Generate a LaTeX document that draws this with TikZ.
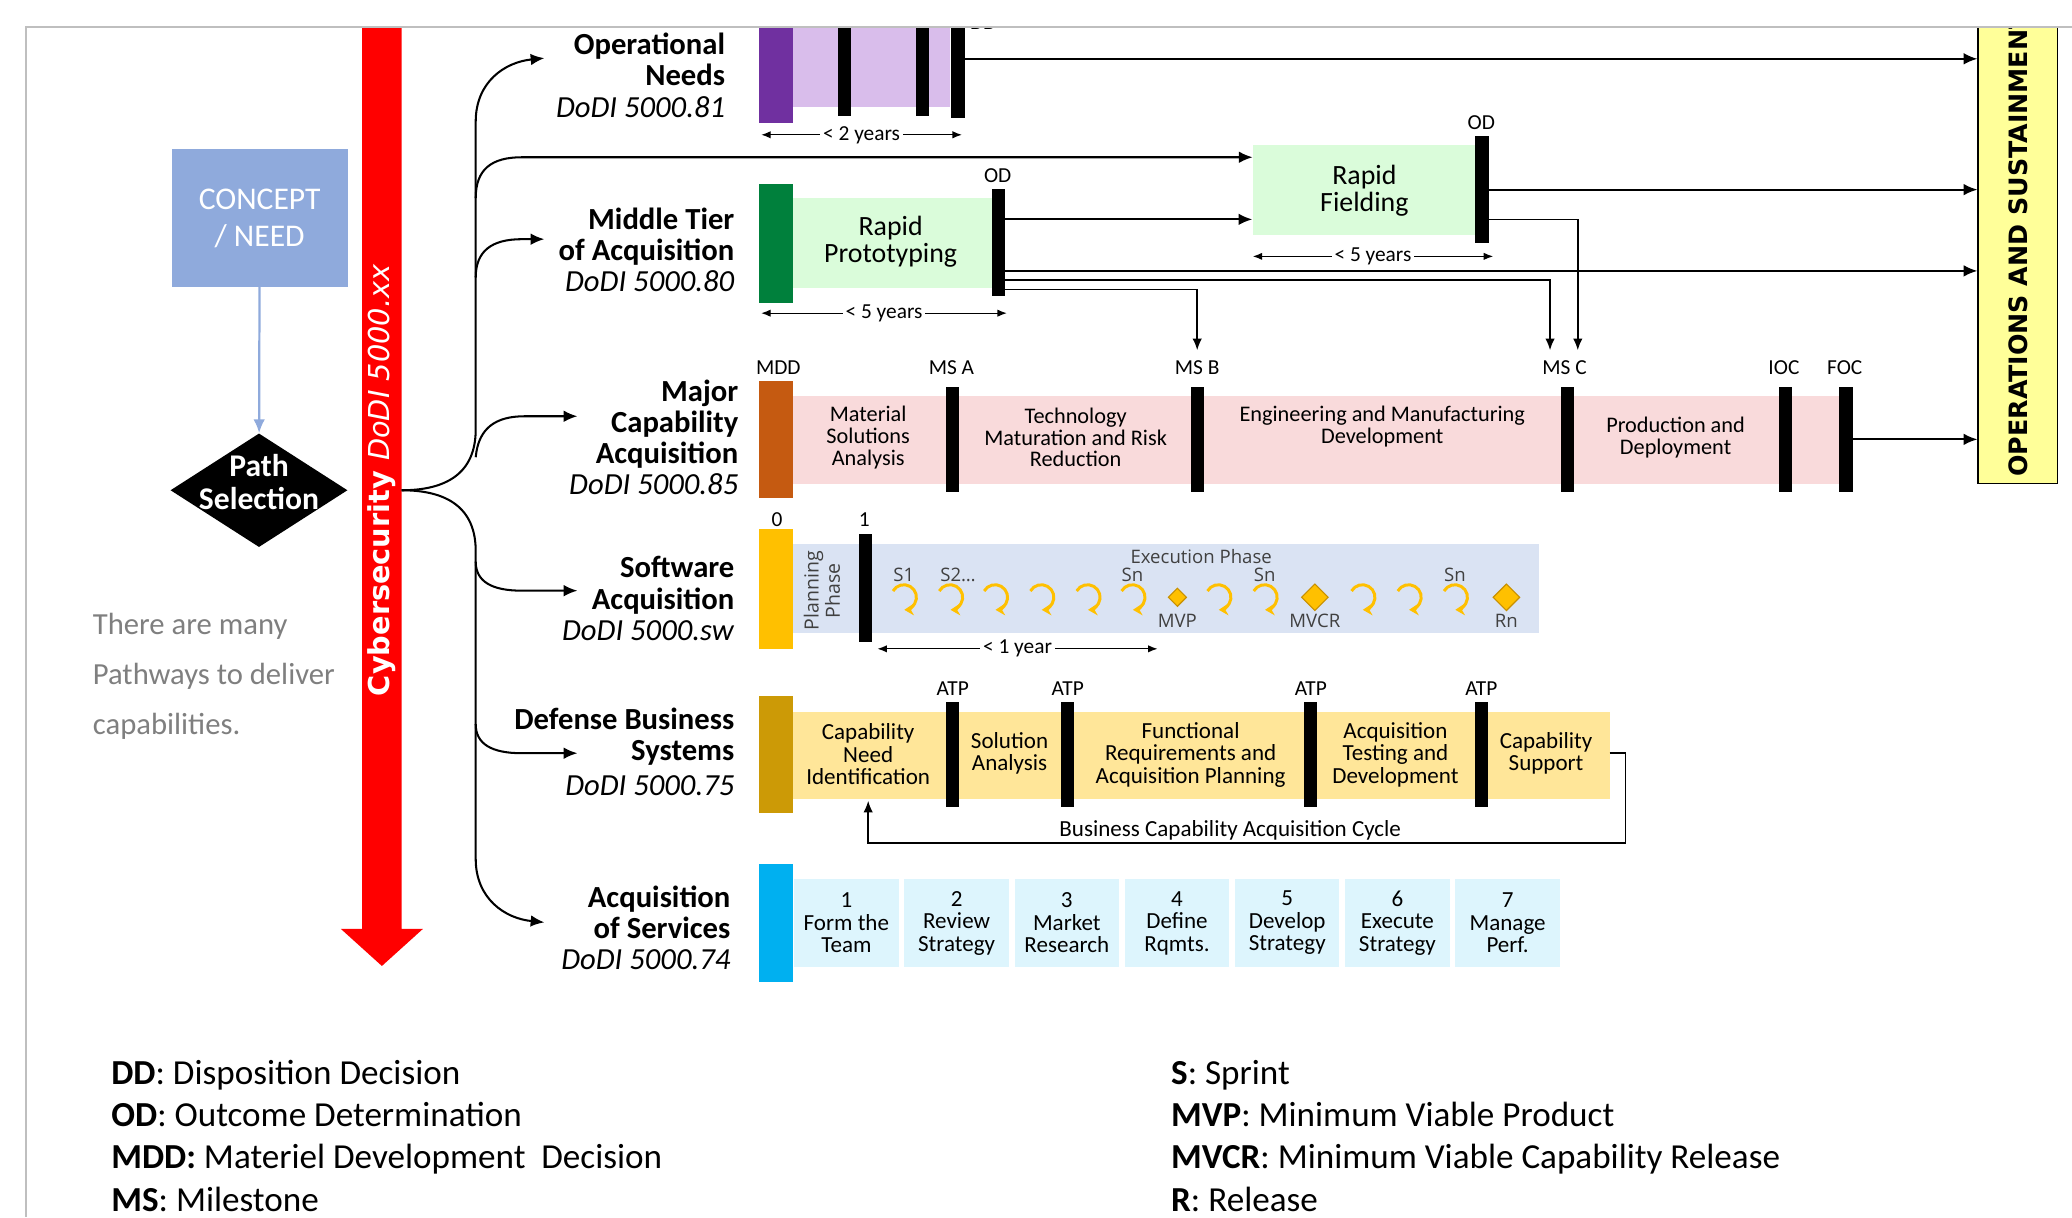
\documentclass[tikz,border=0pt]{standalone}
\usepackage{fontspec}
\setmainfont{Carlito}
\newfontfamily\dejavu{DejaVu Sans}
\newfontfamily\opensans{Open Sans}
\usetikzlibrary{arrows.meta,shapes.geometric,positioning}

\definecolor{conceptblue}{HTML}{8FAADC}
\definecolor{cyberred}{HTML}{FF0000}
\definecolor{urgdark}{HTML}{7030A0}
\definecolor{urglight}{HTML}{D9BDEB}
\definecolor{mtadark}{HTML}{00803C}
\definecolor{mtalight}{HTML}{DAFCDA}
\definecolor{mcadark}{HTML}{C55A11}
\definecolor{mcalight}{HTML}{F9DADB}
\definecolor{swdark}{HTML}{FFC000}
\definecolor{swedge}{HTML}{C89000}
\definecolor{swlight}{HTML}{DAE3F3}
\definecolor{dbsdark}{HTML}{CC9A06}
\definecolor{dbslight}{HTML}{FFE699}
\definecolor{svcdark}{HTML}{00B0F0}
\definecolor{svclight}{HTML}{DDF5FD}
\definecolor{opsyellow}{HTML}{FFFF99}
\definecolor{framegray}{HTML}{BFBFBF}
\definecolor{notegray}{HTML}{7F7F7F}
\definecolor{swtext}{HTML}{404040}

\newcommand{\setfs}[2]{\fontsize{#1}{#2}\selectfont}

\begin{document}
\begin{tikzpicture}[x=0.025cm,y=-0.025cm,
    arr/.style={line width=1.1pt,-{Latex[length=2.6mm,width=2.2mm]}},
    thinarr/.style={line width=0.8pt,-{Latex[length=2.2mm,width=1.8mm]}},
    dimarr/.style={line width=0.7pt,{Latex[length=1.8mm,width=1.4mm]}-{Latex[length=1.8mm,width=1.4mm]}},
    dimlbl/.style={fill=white,inner sep=1.5pt,font=\setfs{11.5}{12}},
    rowlbl/.style={anchor=east,align=right,inner sep=0pt,font=\setfs{16.5}{16.8}},
    phase/.style={align=center,inner sep=0pt,font=\setfs{12}{11.8}},
    mslbl/.style={inner sep=0pt,font=\setfs{11.5}{12}},
    msbar/.style={fill=black,inner sep=0pt,minimum width=0.25cm},
    sprint/.style={draw=swdark,line width=1.6pt,-{Stealth[length=1.8mm,width=2.2mm]}},
    swlbl/.style={inner sep=0pt,text=swtext,font=\opensans\setfs{10}{10}},
    swdiam/.style={diamond,draw=swedge,fill=swdark,inner sep=0pt,line width=0.6pt},
    svcbox/.style={fill=svclight,minimum width=1.975cm,minimum height=1.675cm,inner sep=0pt,align=center,font=\setfs{12.4}{12.1}},
    legend/.style={anchor=west,align=left,inner sep=0pt,font=\setfs{18.9}{22.8}}
  ]
\useasboundingbox (0,0) rectangle (1568,921);
\begin{scope}
\clip (20,20.5) rectangle (1568,921);

% concept and path selection
\node[fill=conceptblue,text=white,minimum width=3.325cm,minimum height=2.6cm,align=center,
  font=\setfs{17}{20}] (concept) at (196.5,165) {CONCEPT\\/ NEED};
\node[diamond,fill=black,minimum width=3.35cm,minimum height=2.15cm,inner sep=0pt] (pathsel) at (196,371) {};
\node[text=white,align=center,inner sep=0pt,font=\bfseries\setfs{17}{17.8}] (pathtxt) at (196,365) {Path\\Selection};
\draw[conceptblue,line width=1.2pt,-{Latex[length=2.6mm,width=2.2mm]}] (concept) -- (pathsel);
\node[anchor=west,align=left,text=notegray,inner sep=0pt,font=\setfs{16.5}{27}] (note) at (70,512)
  {There are many\\Pathways to deliver\\capabilities.};

% cybersecurity arrow
\fill[cyberred] (274,0) -- (274,703) -- (258,703) -- (289,731) -- (320,703) -- (304,703) -- (304,0) -- cycle;
\node[rotate=90,anchor=west,inner sep=0pt,text=white,font=\dejavu\setfs{15.5}{16}] (cyber) at (289,527)
  {\bfseries Cybersecurity \mdseries\itshape DoDI 5000.xx};

% trunk and branches
\coordinate (junc) at (304,371);
\coordinate (urgarr) at (412,44);
\coordinate (mtaarr) at (412,181);
\coordinate (mcaarr) at (437,315);
\coordinate (swarr) at (437,447);
\coordinate (dbsarr) at (437,570);
\coordinate (svcarr) at (412,698);
\draw[arr] (junc) .. controls (338,371) and (360,358) .. (360,325) -- (360,92)
  .. controls (360,62) and (382,47) .. (urgarr);
\draw[arr] (junc) .. controls (338,371) and (360,384) .. (360,417) -- (360,650)
  .. controls (360,680) and (382,695) .. (svcarr);
\draw[arr] (360,150) .. controls (360,128) and (372,119) .. (395,119) -- (948,119);
\draw[arr] (360,210) .. controls (360,190) and (372,181) .. (395,181) -- (mtaarr);
\draw[arr] (360,346) .. controls (362,324) and (375,315) .. (397,315) -- (mcaarr);
\draw[arr] (360,425) .. controls (360,440) and (372,447) .. (395,447) -- (swarr);
\draw[arr] (360,548) .. controls (360,563) and (372,570) .. (395,570) -- (dbsarr);

% operations and sustainment
\node[draw=black,fill=opsyellow,line width=0.8pt,minimum width=1.5cm,minimum height=9.6cm,inner sep=0pt]
  (ops) at (1527,174) {};
\node[rotate=90,anchor=west,inner sep=0pt,font=\dejavu\bfseries\setfs{13.6}{14}] (opstxt) at (1527,361)
  {OPERATIONS AND SUSTAINMENT};

% operational needs
\node[rowlbl] (urglbl) at (549,57) {\textbf{Operational}\\\textbf{Needs}\\\textit{DoDI 5000.81}};
\fill[urglight] (600,0) rectangle (719,81);
\fill[urgdark] (574,0) rectangle (600,93);
\node[msbar,minimum height=2.2cm] (urgA) at (639,44) {};
\node[msbar,minimum height=2.2cm] (urgB) at (698,44) {};
\node[msbar,minimum height=2.225cm] (ddbar) at (725,44.5) {};
\node[mslbl] (ddlbl) at (744,17) {DD};
\draw[dimarr] (576,102) -- node[dimlbl] (urgdim) {< 2 years} (728,102);
\draw[arr] (ddbar.east) -- (ddbar.east -| ops.west);

% middle tier
\node[rowlbl] (mtalbl) at (556,189) {\textbf{Middle Tier}\\\textbf{of Acquisition}\\\textit{DoDI 5000.80}};
\fill[mtalight] (600,150) rectangle (751,218);
\fill[mtadark] (574,139) rectangle (600,229);
\node[align=center,inner sep=0pt,font=\setfs{15}{14.5}] (rptxt) at (674,183) {Rapid\\Prototyping};
\node[msbar,minimum height=2.025cm] (rpOD) at (755.5,183.5) {};
\node[mslbl] (rpODlbl) at (755,133) {OD};
\draw[dimarr] (576,237) -- node[dimlbl] (mtadim) {< 5 years} (762,237);

\node[fill=mtalight,minimum width=4.225cm,minimum height=1.7cm,inner sep=0pt,align=center,
  font=\setfs{15}{14.5}] (rfbox) at (1032.5,144) {Rapid\\Fielding};
\node[msbar,minimum height=2.025cm] (rfOD) at (1121.5,143.5) {};
\node[mslbl] (rfODlbl) at (1121,93) {OD};
\draw[dimarr] (948,194) -- node[dimlbl] (rfdim) {< 5 years} (1130,194);

\coordinate (y166) at (0,166);
\coordinate (y205) at (0,205);
\coordinate (y212) at (0,212);
\coordinate (y219) at (0,219);
\coordinate (msBin) at (906,265);
\coordinate (msCin) at (1173,265);
\coordinate (msCin2) at (1194,265);
\draw[arr] (rpOD.east |- y166) -- (rfbox.west |- y166);
\draw[arr] (rpOD.east |- y205) -- (ops.west |- y205);
\draw[thinarr] (rpOD.east |- y212) -| (msCin);
\draw[thinarr] (rpOD.east |- y219) -| (msBin);
\draw[arr] (rfOD.east) -- (rfOD.east -| ops.west);
\draw[thinarr] (rfOD.east |- y166) -| (msCin2);

% major capability acquisition
\node[rowlbl] (mcalbl) at (559,331) {\textbf{Major}\\\textbf{Capability}\\\textbf{Acquisition}\\\textit{DoDI 5000.85}};
\fill[mcalight] (600,300) rectangle (1397,366);
\fill[mcadark] (574,288) rectangle (600,377);
\node[phase] (msatxt) at (657,331) {Material\\Solutions\\Analysis};
\node[phase] (tmrtxt) at (814,331) {Technology\\Maturation and Risk\\Reduction};
\node[phase] (emdtxt) at (1046,323) {Engineering and Manufacturing\\Development};
\node[phase] (pdtxt) at (1268,331) {Production and\\Deployment};
\node[msbar,minimum height=1.975cm] (msA) at (721,332.5) {};
\node[msbar,minimum height=1.975cm] (msB) at (906,332.5) {};
\node[msbar,minimum height=1.975cm] (msC) at (1186,332.5) {};
\node[msbar,minimum height=1.975cm] (ioc) at (1351,332.5) {};
\node[msbar,minimum height=1.975cm] (foc) at (1397,332.5) {};
\node[mslbl] (mddlbl) at (589,278) {MDD};
\node[mslbl] (msAlbl) at (720,278) {MS A};
\node[mslbl] (msBlbl) at (906,278) {MS B};
\node[mslbl] (msClbl) at (1184,278) {MS C};
\node[mslbl] (ioclbl) at (1350,278) {IOC};
\node[mslbl] (foclbl) at (1396,278) {FOC};
\draw[arr] (foc.east) -- (foc.east -| ops.west);

% software acquisition
\node[rowlbl] (swlbl) at (556,453) {\textbf{Software}\\\textbf{Acquisition}\\\textit{DoDI 5000.sw}};
\fill[swlight] (600,412) rectangle (1165,479);
\fill[swdark] (574,400) rectangle (600,491);
\node[rotate=90,align=center,inner sep=0pt,text=swtext,font=\opensans\setfs{10.5}{11.4}] (plan) at (622,447)
  {Planning\\Phase};
\node[msbar,minimum height=2.05cm] (swone) at (655,445) {};
\node[mslbl] (swzero) at (588,393) {0};
\node[mslbl] (swonelbl) at (654,393) {1};
\node[swlbl] (exec) at (909,421) {Execution Phase};
\foreach \x in {684,719,753,788,823,857,922,957,1031,1066,1101}
  \draw[sprint] (\x,452) ++(-150:9.5) arc[start angle=-150,end angle=88,radius=9.5];
\node[swlbl] (s1) at (684,435) {S1};
\node[swlbl] (s2) at (725,435) {S2…};
\node[swlbl] (sn1) at (857,435) {Sn};
\node[swlbl] (sn2) at (957,435) {Sn};
\node[swlbl] (sn3) at (1101,435) {Sn};
\node[swdiam,minimum size=0.35cm] (mvp) at (891,452) {};
\node[swdiam,minimum size=0.51cm] (mvcr) at (995,452) {};
\node[swdiam,minimum size=0.51cm] (rn) at (1140,452) {};
\node[swlbl] (mvplbl) at (891,470) {MVP};
\node[swlbl] (mvcrlbl) at (995,470) {MVCR};
\node[swlbl] (rnlbl) at (1140,470) {Rn};
\draw[dimarr] (664,491) -- node[dimlbl] (swdim) {< 1 year} (876,491);

% defense business systems
\node[rowlbl] (dbslbl) at (556,569) {\textbf{Defense Business}\\\textbf{Systems}\\[2pt]\textit{DoDI 5000.75}};
\fill[dbslight] (600,539) rectangle (1218,605);
\fill[dbsdark] (574,527) rectangle (600,615);
\node[phase,font=\setfs{12.4}{12.1}] (cni) at (657,571) {Capability\\Need\\Identification};
\node[phase,font=\setfs{12.4}{12.1}] (sa) at (764,570) {Solution\\Analysis};
\node[phase,font=\setfs{12.4}{12.1}] (frap) at (901,571) {Functional\\Requirements and\\Acquisition Planning};
\node[phase,font=\setfs{12.4}{12.1}] (atd) at (1056,571) {Acquisition\\Testing and\\Development};
\node[phase,font=\setfs{12.4}{12.1}] (cs) at (1170,570) {Capability\\Support};
\foreach \x/\n in {721/1,808/2,992/3,1121/4} {
  \node[msbar,minimum height=2cm] (atp\n) at (\x,571) {};
  \node[mslbl] (atplbl\n) at (\x,521) {ATP};
}
\coordinate (cycout) at (1218,570);
\coordinate (cycturn) at (657,638);
\coordinate (cycin) at (657,606);
\draw[thinarr] (cycout) -- ++(12,0) |- (cycturn) -- (cycin);
\node[phase,font=\setfs{12.4}{12.1}] (cyclbl) at (931,628) {Business Capability Acquisition Cycle};

% acquisition of services
\node[rowlbl] (svclbl) at (553,702) {\textbf{Acquisition}\\\textbf{of Services}\\\textit{DoDI 5000.74}};
\fill[svcdark] (574,654) rectangle (600,743);
\foreach \n/\a/\b [count=\i from 0] in {1/Form the/Team,2/Review/Strategy,3/Market/Research,
    4/Define/Rqmts.,5/Develop/Strategy,6/Execute/Strategy,7/Manage/Perf.}
  \node[svcbox] (svc\n) at ({640.5+83.4*\i},698.5) {\n\\\a\\\b};

% legend
\node[legend] (legL) at (84,859.5) {\textbf{DD}: Disposition Decision\\\textbf{OD}: Outcome Determination\\
  \textbf{MDD:} Materiel Development\ \ Decision\\\textbf{MS}: Milestone};
\node[legend] (legR) at (886,859.5) {\textbf{S}: Sprint\\\textbf{MVP}: Minimum Viable Product\\
  \textbf{MVCR}: Minimum Viable Capability Release\\\textbf{R}: Release};
\end{scope}

% frame
\draw[framegray,line width=1pt] (20,921) -- (20,20.5) -- (1568,20.5);
\end{tikzpicture}
\end{document}
